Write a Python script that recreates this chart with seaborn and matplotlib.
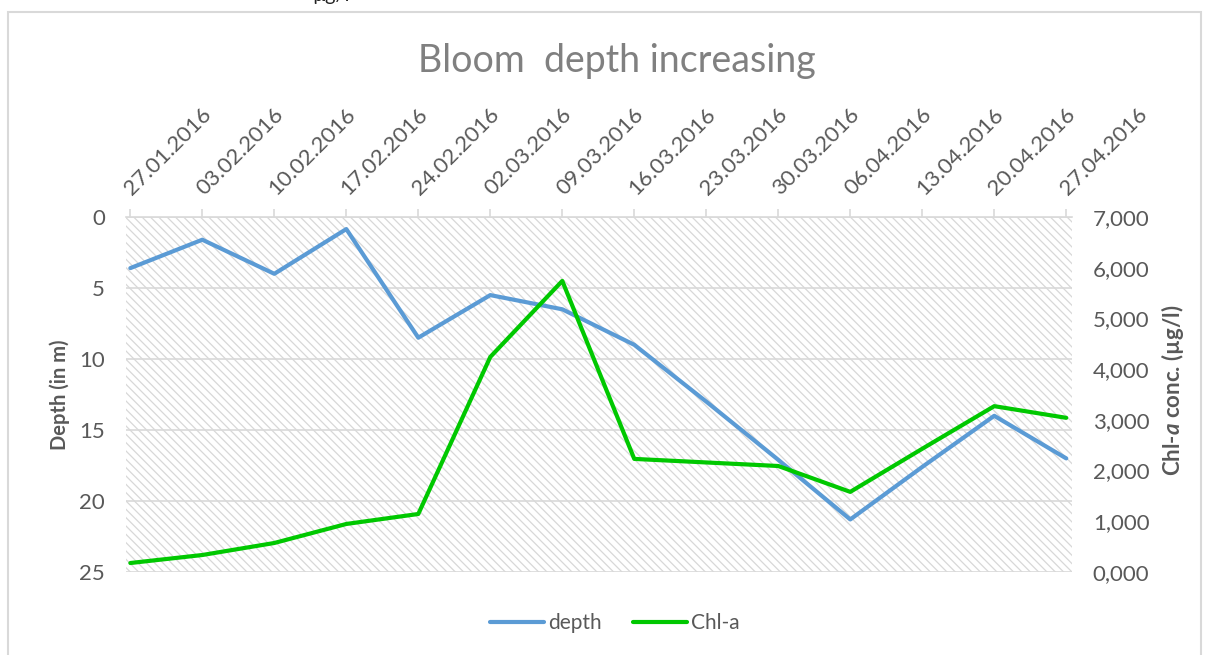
import numpy as np
import pandas as pd
import seaborn as sns
import matplotlib.pyplot as plt
from matplotlib.patches import Rectangle
from matplotlib.ticker import FuncFormatter, FixedLocator
from matplotlib.transforms import ScaledTranslation

# Sampling dates (weekly) and measurements
dates = ["27.01.2016", "03.02.2016", "10.02.2016", "17.02.2016", "24.02.2016",
         "02.03.2016", "09.03.2016", "16.03.2016", "23.03.2016", "30.03.2016",
         "06.04.2016", "13.04.2016", "20.04.2016", "27.04.2016"]
depth = [3.6, 1.6, 4.0, 0.85, 8.5, 5.5, 6.5, 9.0, 13.0, 17.1, 21.3, 17.6, 14.0, 17.0]
chl_a = [0.177, 0.335, 0.572, 0.947, 1.144, 4.24, 5.74, 2.23, 2.16, 2.09, 1.58, 2.43, 3.27, 3.04]
depth_ticks = [0, 5, 10, 15, 20, 25]
chl_ticks = [0, 1, 2, 3, 4, 5, 6, 7]

sns.set_theme(style="white")
plt.rcParams["font.family"] = ["Lato", "DejaVu Sans"]
plt.rcParams["mathtext.fontset"] = "custom"
plt.rcParams["mathtext.bfit"] = "Lato:bold:italic"
plt.rcParams["mathtext.rm"] = "Lato"
plt.rcParams["hatch.linewidth"] = 0.9

TXT = "#595959"
GRID = "#d9d9d9"
BLUE = "#5b9bd5"
GREEN = "#00c800"
TICK_FS = 16

df = pd.DataFrame({"pos": np.arange(len(dates)), "date": dates,
                   "depth": depth, "chl": chl_a})

W, H = 1206, 655
fig = plt.figure(figsize=(W / 100, H / 100), dpi=100)
ax = fig.add_axes([126 / W, 1 - 572 / H, (1072 - 126) / W, 355 / H])

# hatched plot background
ax.patch.set_facecolor("white")
ax.patch.set_hatch("\\\\\\\\")
ax.patch.set_edgecolor("#d8d8d8")
ax.patch.set_linewidth(0)

sns.lineplot(data=df, x="pos", y="depth", ax=ax, color=BLUE, lw=3,
             solid_joinstyle="round", solid_capstyle="round", label="depth",
             legend=False)
ax.set_ylim(25, 0)
ax.set_xlim(-0.06, 13.08)
ax.yaxis.set_major_locator(FixedLocator(depth_ticks))
ax.yaxis.grid(True, color=GRID, lw=1.2)
ax.set_axisbelow(True)
ax.set_xlabel("")
ax.set_ylabel("")

ax.xaxis.tick_top()
ax.set_xticks(df["pos"])
ax.set_xticklabels(dates, rotation=45, ha="left", va="bottom",
                   rotation_mode="anchor", color=TXT, fontsize=TICK_FS)
ax.tick_params(axis="x", which="major", top=True, bottom=False, length=6,
               width=1.2, color=GRID, pad=7, labeltop=True, labelbottom=False)
ax.tick_params(axis="y", length=0, pad=15, labelsize=TICK_FS, labelcolor=TXT)
for side in ["left", "right", "bottom"]:
    ax.spines[side].set_visible(False)
ax.spines["top"].set_color(GRID)
ax.spines["top"].set_linewidth(1.2)

# nudge the slanted date labels a little to the right of their ticks
nudge = ScaledTranslation(5 / 100, 0, fig.dpi_scale_trans)
for tick in ax.xaxis.get_major_ticks():
    tick.label2.set_transform(tick.label2.get_transform() + nudge)

ax2 = ax.twinx()
sns.lineplot(data=df, x="pos", y="chl", ax=ax2, color=GREEN, lw=3,
             solid_joinstyle="round", solid_capstyle="round", label="Chl-a",
             legend=False)
ax2.set_ylim(0, 7)
ax2.yaxis.set_major_locator(FixedLocator(chl_ticks))
ax2.yaxis.set_major_formatter(FuncFormatter(lambda v, p: f"{v:.3f}".replace(".", ",")))
ax2.tick_params(axis="y", length=0, pad=15, labelsize=TICK_FS, labelcolor=TXT)
ax2.tick_params(axis="x", top=False, bottom=False, labeltop=False, labelbottom=False)
ax2.set_xlabel("")
ax2.set_ylabel("")
for side in ax2.spines:
    ax2.spines[side].set_visible(False)

# axis titles
fig.text(60 / W, 1 - 395 / H, "Depth (in m)", rotation=90, ha="center",
         va="center", fontsize=14.5, fontweight="bold", color=TXT)
fig.text(1172 / W, 1 - 390 / H, "Chl-$\\mathbfit{a}$ conc. (µg/l)", rotation=90,
         ha="center", va="center", fontsize=16, fontweight="bold", color=TXT)

# chart title
fig.text(617 / W, 1 - 72 / H, "Bloom  depth increasing", ha="center",
         va="baseline", fontsize=27, fontweight="normal", color="#808080")

# legend
handles = [ax.get_lines()[0], ax2.get_lines()[0]]
fig.legend(handles, ["depth", "Chl-a"], loc="center",
           bbox_to_anchor=(615 / W, 1 - 623 / H), ncol=2, frameon=False,
           fontsize=15, labelcolor=TXT, handlelength=2.6, handletextpad=0.2,
           columnspacing=1.5)

# chart frame and caption fragment above it
fig.add_artist(Rectangle((8 / W, -0.02), (1201 - 8) / W, 1.02 - 12 / H,
                         transform=fig.transFigure, fill=False,
                         edgecolor=GRID, lw=1.5))
fig.text(312 / W, 1 - 1 / H, "µg/l", ha="left", va="baseline",
         fontsize=14.5, color="#222222")

fig.savefig("out.png", dpi=100)
